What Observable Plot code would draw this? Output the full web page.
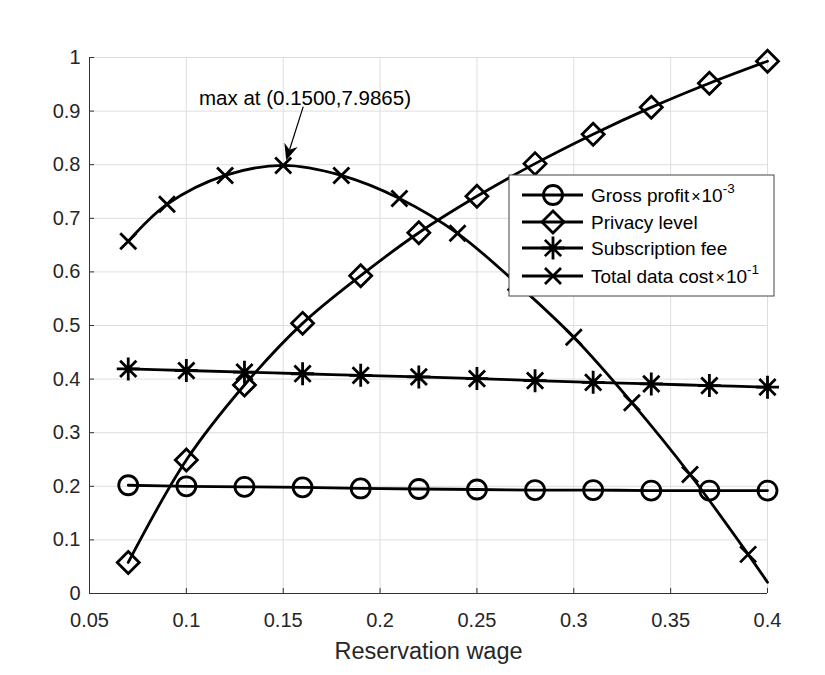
<!DOCTYPE html>
<html>
<head>
<meta charset="utf-8">
<script src="https://cdn.jsdelivr.net/npm/d3@7"></script>
<script src="https://cdn.jsdelivr.net/npm/@observablehq/plot@0.6"></script>
<style>
  html, body { margin: 0; padding: 0; background: #fff; }
  #chart { width: 825px; height: 675px; }
</style>
</head>
<body>
<div id="chart"></div>
<script>
// Reservation wage sampled where markers are drawn
const wageMarked = [0.07, 0.10, 0.13, 0.16, 0.19, 0.22, 0.25, 0.28, 0.31, 0.34, 0.37, 0.40];
const grossProfit = [0.202, 0.200, 0.199, 0.198, 0.196, 0.195, 0.194, 0.193, 0.193, 0.192, 0.192, 0.192];
const privacyLevel = [0.058, 0.249, 0.389, 0.504, 0.593, 0.673, 0.741, 0.802, 0.857, 0.907, 0.952, 0.993];
const subscriptionFee = [0.419, 0.416, 0.413, 0.410, 0.407, 0.404, 0.401, 0.397, 0.394, 0.391, 0.388, 0.385];

// Total data cost (x 10^-1); last sample at 0.40 carries no marker
const costWage = [0.07, 0.09, 0.12, 0.15, 0.18, 0.21, 0.24, 0.27, 0.30, 0.33, 0.36, 0.39, 0.40];
const totalDataCost = [0.657, 0.726, 0.780, 0.79865, 0.780, 0.737, 0.672, 0.580, 0.478, 0.356, 0.222, 0.073, 0.021];
const costHasMarker = [true, true, true, true, true, true, true, true, true, true, true, true, false];

const xTicks = [0.05, 0.1, 0.15, 0.2, 0.25, 0.3, 0.35, 0.4];
const yTicks = [0, 0.1, 0.2, 0.3, 0.4, 0.5, 0.6, 0.7, 0.8, 0.9, 1];

const seriesNames = ["Gross profit", "Privacy level", "Subscription fee", "Total data cost"];
const seriesScale = ["-3", null, null, "-1"];

// Annotation of the maximum of the total data cost curve
const maxLabel = "max at (0.1500,7.9865)";
const maxLabelPos = {x: 0.1615, y: 0.910};
const maxArrow = {x1: 0.1606, y1: 0.9075, x2: 0.1518, y2: 0.8075};

// MATLAB-style marker shapes (size = PI r^2, so r is the half-extent)
const half = size => Math.sqrt(size / Math.PI);
const circleSym = {draw(c, s) { const r = half(s); c.moveTo(r, 0); c.arc(0, 0, r, 0, 2 * Math.PI); }};
const diamondSym = {draw(c, s) { const r = half(s); c.moveTo(0, -r); c.lineTo(r, 0); c.lineTo(0, r); c.lineTo(-r, 0); c.closePath(); }};
const asteriskSym = {draw(c, s) {
  const r = half(s), d = r * 0.7071;
  c.moveTo(0, -r); c.lineTo(0, r);
  c.moveTo(-r, 0); c.lineTo(r, 0);
  c.moveTo(-d, -d); c.lineTo(d, d);
  c.moveTo(-d, d); c.lineTo(d, -d);
}};
const timesSym = {draw(c, s) { const r = half(s); c.moveTo(-r, -r); c.lineTo(r, r); c.moveTo(-r, r); c.lineTo(r, -r); }};

const symbols = [circleSym, diamondSym, asteriskSym, timesSym];
const symbolR = [9.5, 11, 11.5, 8];

const marked = wageMarked.map((x, i) => ({x, gross: grossProfit[i], privacy: privacyLevel[i], fee: subscriptionFee[i]}));
const cost = costWage.map((x, i) => ({x, y: totalDataCost[i], marker: costHasMarker[i]}));

const ink = "#000";
const sw = 2.8;
const fontStack = "'Liberation Sans', Arial, sans-serif";
const lineOpts = {curve: "catmull-rom", stroke: ink, strokeWidth: sw};
const dotOpts = (k) => ({symbol: symbols[k], r: symbolR[k], stroke: ink, strokeWidth: sw, fill: "none"});

const plot = Plot.plot({
  width: 825,
  height: 675,
  marginLeft: 89,
  marginRight: 58,
  marginTop: 57,
  marginBottom: 82,
  style: {fontFamily: fontStack, fontSize: "20px", color: "#262626", background: "#fff", overflow: "visible"},
  x: {domain: [0.05, 0.4]},
  y: {domain: [0, 1]},
  marks: [
    Plot.gridX(xTicks, {stroke: "#dedede", strokeOpacity: 1, strokeWidth: 1}),
    Plot.gridY(yTicks, {stroke: "#dedede", strokeOpacity: 1, strokeWidth: 1}),
    Plot.ruleY([0], {stroke: "#333", strokeWidth: 1}),
    Plot.ruleX([0.05], {stroke: "#333", strokeWidth: 1}),
    Plot.ruleX(xTicks, {y1: 0, y2: 0.0095, stroke: "#333", strokeWidth: 1}),
    Plot.ruleY(yTicks, {x1: 0.05, x2: 0.0526, stroke: "#333", strokeWidth: 1}),
    Plot.axisX(xTicks, {tickSize: 0, tickPadding: 19, tickFormat: d => String(d), label: null, fontSize: 20, fill: "#262626"}),
    Plot.axisY(yTicks, {tickSize: 0, tickPadding: 9, tickFormat: d => String(d), label: null, fontSize: 20, fill: "#262626"}),
    Plot.axisX({tickSize: 0, ticks: [], label: "Reservation wage", labelAnchor: "center", labelArrow: "none", labelOffset: 65, fontSize: 23.5, fill: "#262626"}),

    Plot.line(marked, {x: "x", y: "gross", ...lineOpts}),
    Plot.line(marked, {x: "x", y: "privacy", ...lineOpts}),
    Plot.line(marked, {x: "x", y: "fee", ...lineOpts}),
    Plot.line(cost, {x: "x", y: "y", ...lineOpts}),

    Plot.dot(marked, {x: "x", y: "gross", ...dotOpts(0)}),
    Plot.dot(marked, {x: "x", y: "privacy", ...dotOpts(1)}),
    Plot.dot(marked, {x: "x", y: "fee", ...dotOpts(2)}),
    Plot.dot(cost.filter(d => d.marker), {x: "x", y: "y", ...dotOpts(3)})
  ]
});

document.getElementById("chart").appendChild(plot);

const svg = d3.select(plot);
const sx = plot.scale("x"), sy = plot.scale("y");

// Annotation: label and filled arrow pointing at the maximum
const ann = svg.append("g").attr("font-family", fontStack);
ann.append("text")
  .attr("x", sx.apply(maxLabelPos.x)).attr("y", sy.apply(maxLabelPos.y))
  .attr("text-anchor", "middle").attr("font-size", 20.5).attr("fill", "#000")
  .text(maxLabel);
{
  const x1 = sx.apply(maxArrow.x1), y1 = sy.apply(maxArrow.y1);
  const x2 = sx.apply(maxArrow.x2), y2 = sy.apply(maxArrow.y2);
  const dx = x2 - x1, dy = y2 - y1, L = Math.hypot(dx, dy);
  const ux = dx / L, uy = dy / L, px = -uy, py = ux;
  const hl = 16, hw = 7, notch = 11;
  const bx = x2 - ux * hl, by = y2 - uy * hl;
  const nx = x2 - ux * notch, ny = y2 - uy * notch;
  ann.append("line").attr("x1", x1).attr("y1", y1).attr("x2", nx).attr("y2", ny)
    .attr("stroke", "#000").attr("stroke-width", 1.2);
  ann.append("path")
    .attr("d", `M${x2},${y2}L${bx + px * hw},${by + py * hw}L${nx},${ny}L${bx - px * hw},${by - py * hw}Z`)
    .attr("fill", "#000");
}

// Legend box in the upper right of the axes
const lg = svg.append("g").attr("font-family", fontStack).attr("text-anchor", "start");
const box = {x: 509, y: 175, w: 265, h: 121};
lg.append("rect").attr("x", box.x).attr("y", box.y).attr("width", box.w).attr("height", box.h)
  .attr("fill", "#fff").attr("stroke", "#444").attr("stroke-width", 1);
const rowY = [195, 222, 248, 276];
seriesNames.forEach((name, i) => {
  const y = rowY[i];
  lg.append("line").attr("x1", 522).attr("x2", 583).attr("y1", y).attr("y2", y)
    .attr("stroke", ink).attr("stroke-width", sw);
  lg.append("path").attr("transform", `translate(553,${y})`)
    .attr("d", d3.symbol(symbols[i], Math.PI * symbolR[i] * symbolR[i])())
    .attr("fill", "none").attr("stroke", ink).attr("stroke-width", sw);
  const t = lg.append("text").attr("x", 591).attr("y", y + 7).attr("font-size", 19).attr("fill", "#000")
    .attr("text-anchor", "start");
  t.append("tspan").text(name);
  if (seriesScale[i]) {
    t.append("tspan").attr("font-size", 16).attr("dx", 2).text("×");
    t.append("tspan").attr("dx", 1).text("10");
    t.append("tspan").attr("font-size", 13.5).attr("dy", -9).text(seriesScale[i]);
  }
});
</script>
</body>
</html>
